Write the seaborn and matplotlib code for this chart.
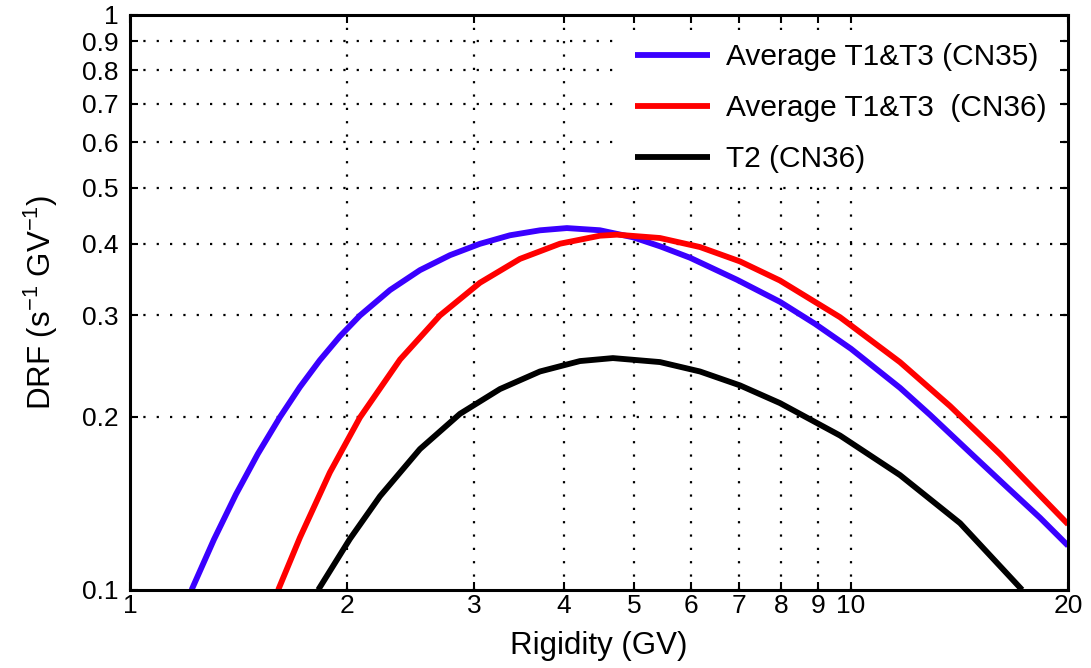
import numpy as np
import pandas as pd
import matplotlib
matplotlib.use("Agg")
import matplotlib.pyplot as plt
import seaborn as sns

# values (log-log axes)
blue_x = [1.218, 1.308, 1.403, 1.505, 1.615, 1.721, 1.834, 1.955, 2.085, 2.295, 2.525, 2.779,
          3.058, 3.366, 3.704, 4.037, 4.486, 4.985, 5.434, 5.98, 6.95, 7.971, 8.914, 10.0,
          11.695, 12.87, 14.766, 16.461, 18.291, 20.0]
blue_y = [0.100, 0.1223, 0.1465, 0.1724, 0.1997, 0.2252, 0.2507, 0.2758, 0.2999, 0.3321,
          0.3596, 0.3818, 0.3996, 0.4135, 0.4218, 0.4256, 0.4219, 0.4102, 0.3957, 0.378,
          0.346, 0.3168, 0.2901, 0.2625, 0.2245, 0.2015, 0.1713, 0.1508, 0.1334, 0.1193]

red_x = [1.606, 1.721, 1.894, 2.085, 2.370, 2.691, 3.058, 3.475, 3.949, 4.486, 4.736, 5.434,
         6.174, 7.017, 7.971, 9.655, 11.695, 13.72, 16.098, 20.0]
red_y = [0.100, 0.1232, 0.1600, 0.1994, 0.2515, 0.2999, 0.3419, 0.3762, 0.3998, 0.4128,
         0.4145, 0.4090, 0.3945, 0.3724, 0.3450, 0.2979, 0.2488, 0.2087, 0.1721, 0.1300]

black_x = [1.825, 2.019, 2.223, 2.525, 2.869, 3.260, 3.704, 4.209, 4.676, 5.434, 6.174,
           7.017, 7.971, 9.655, 11.695, 14.166, 17.268]
black_y = [0.100, 0.1226, 0.1455, 0.1757, 0.2023, 0.2234, 0.2397, 0.2499, 0.2529, 0.2489,
           0.2397, 0.2267, 0.2112, 0.1855, 0.1583, 0.1306, 0.100]

labels = ["Average T1&T3 (CN35)", "Average T1&T3  (CN36)", "T2 (CN36)"]
colors = ["#3a00ff", "#ff0000", "#000000"]

x_ticks = [1, 2, 3, 4, 5, 6, 7, 8, 9, 10, 20]
y_ticks = [0.1, 0.2, 0.3, 0.4, 0.5, 0.6, 0.7, 0.8, 0.9, 1]
x_grid = [2, 3, 4, 5, 6, 7, 8, 9, 10]
y_grid = [0.2, 0.3, 0.4, 0.5, 0.6, 0.7, 0.8, 0.9]

df = pd.concat([
    pd.DataFrame({"Rigidity": blue_x, "DRF": blue_y, "series": labels[0]}),
    pd.DataFrame({"Rigidity": red_x, "DRF": red_y, "series": labels[1]}),
    pd.DataFrame({"Rigidity": black_x, "DRF": black_y, "series": labels[2]}),
])

sns.set_style("ticks")
plt.rcParams["font.family"] = ["Liberation Sans", "DejaVu Sans"]
plt.rcParams["mathtext.fontset"] = "custom"
plt.rcParams["mathtext.rm"] = "Liberation Sans"
plt.rcParams["mathtext.default"] = "regular"
plt.rcParams["text.color"] = "black"
plt.rcParams["axes.labelcolor"] = "black"
plt.rcParams["xtick.color"] = "black"
plt.rcParams["ytick.color"] = "black"

fig = plt.figure(figsize=(10.91, 6.68), dpi=100)
ax = fig.add_axes([0.119, 0.117, 0.860, 0.861])

sns.lineplot(data=df, x="Rigidity", y="DRF", hue="series", palette=colors,
             linewidth=4.2, ax=ax, sort=False, legend=True)
for ln in ax.get_lines():
    ln.set_solid_capstyle("butt")
    ln.set_solid_joinstyle("round")

ax.set_xscale("log")
ax.set_yscale("log")
ax.set_xlim(1, 20)
ax.set_ylim(0.1, 1)

ax.set_xticks(x_ticks)
ax.set_xticklabels([str(t) for t in x_ticks])
ax.set_yticks(y_ticks)
ax.set_yticklabels([str(t) for t in y_ticks])
ax.minorticks_off()
ax.tick_params(which="major", direction="in", length=6, width=1.5,
               top=True, right=True, labelsize=19)
ax.tick_params(axis="x", pad=3)
ax.tick_params(axis="y", pad=8)

for gx in x_grid:
    ax.axvline(gx, color="black", linestyle=(0, (1, 5)), linewidth=1.6, zorder=0)
for gy in y_grid:
    ax.axhline(gy, color="black", linestyle=(0, (1, 5)), linewidth=1.6, zorder=0)

for s in ax.spines.values():
    s.set_linewidth(2.2)
    s.set_color("black")

ax.set_xlabel("Rigidity (GV)", fontsize=22.5, labelpad=9)
ax.set_ylabel("DRF (s$^{-1}$ GV$^{-1}$)", fontsize=22.5, labelpad=16)

leg = ax.legend(loc="upper right", bbox_to_anchor=(1.006, 0.997), fontsize=21.5,
                frameon=True, framealpha=1, edgecolor="none", facecolor="white",
                handlelength=2.5, handletextpad=0.55, labelspacing=0.77,
                borderpad=0.4)
for line in leg.get_lines():
    line.set_linewidth(4.2)

fig.savefig("out.png", dpi=100)
